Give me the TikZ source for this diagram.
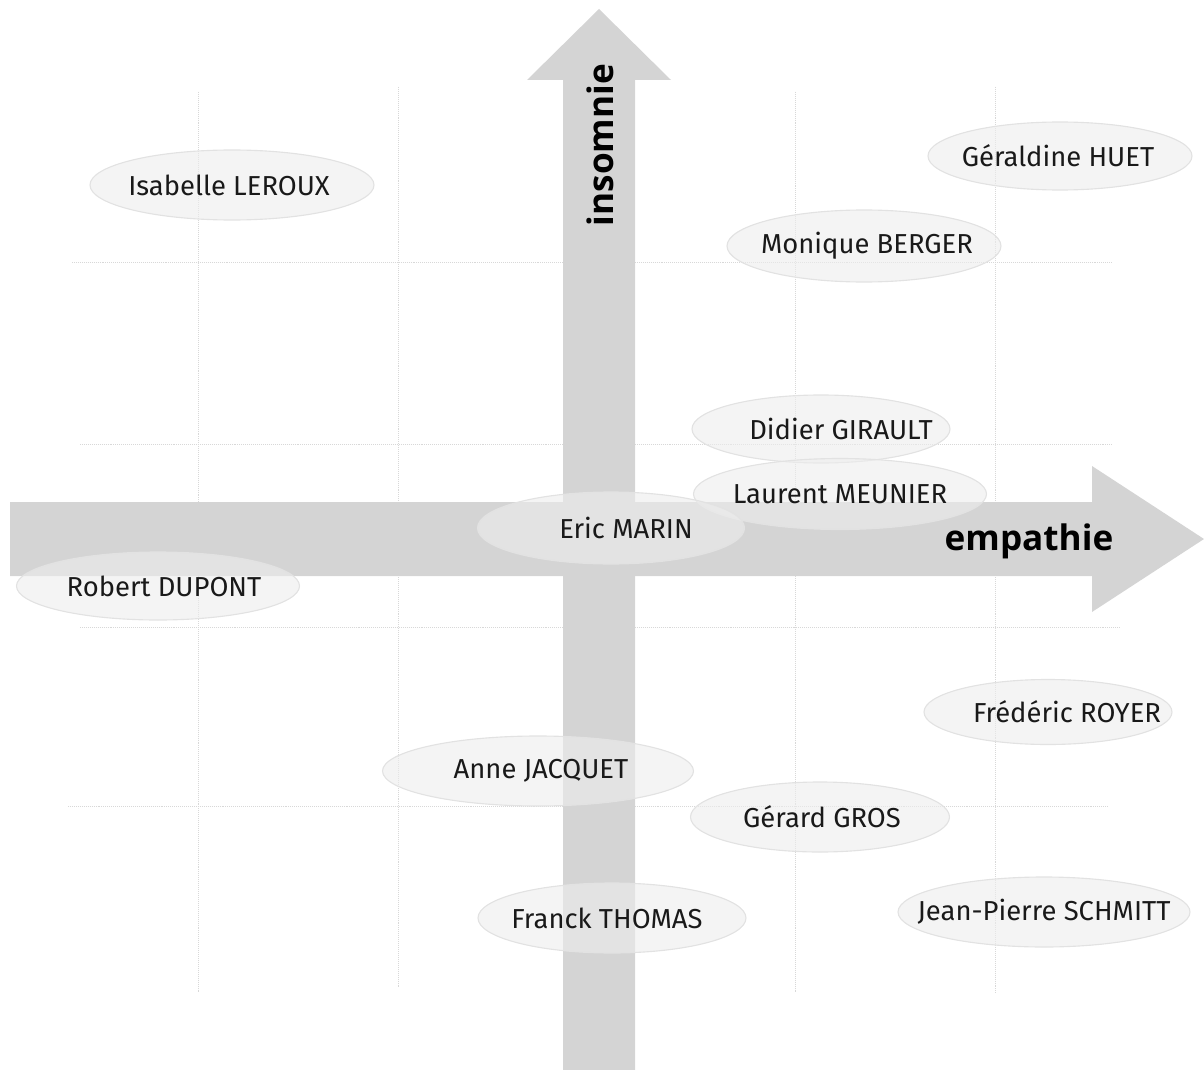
\documentclass[tikz,border=0pt]{standalone}
\usepackage{fontspec}
\setmainfont{Fira Sans}
\newfontfamily\axisfont{Open Sans}
\usetikzlibrary{shapes.geometric}

\definecolor{axisgray}{HTML}{D4D4D4}
\definecolor{ringgray}{HTML}{E2E2E2}
\definecolor{gridgray}{HTML}{D8D8D8}

\tikzset{
    gridline/.style = {gridgray, densely dotted, line width=0.4pt},
    axisarrow/.style = {fill=axisgray, draw=none},
    axislabel/.style = {font=\axisfont\bfseries\fontsize{25}{29}\selectfont, text=black},
    persona/.style = {ellipse, draw=ringgray, line width=0.8pt, fill=gray!14, fill opacity=0.6, inner sep=0pt},
    personname/.style = {font=\fontsize{19.5}{23}\selectfont, text=black!90}
}

\begin{document}
\begin{tikzpicture}[x=0.25mm, y=-0.25mm]

    \useasboundingbox (0,0) rectangle (1204,1070);

    % grille
    \foreach \x/\ya/\yb in {198/92/993, 398/87/988, 795/92/993, 995/87/993}
        \draw[gridline] (\x,\ya) -- (\x,\yb);
    \foreach \y/\xa/\xb in {262/72/1112, 444/80/1113, 627/80/1120, 806/68/1108}
        \draw[gridline] (\xa,\y) -- (\xb,\y);

    % axes
    \fill[axisarrow] (10,502) -- (1092,502) -- (1092,466) -- (1204,539)
        -- (1092,612) -- (1092,576) -- (10,576) -- cycle;
    \fill[axisarrow] (563,1070) -- (563,80) -- (527,80) -- (599,9)
        -- (671,80) -- (635,80) -- (635,1070) -- cycle;

    \node[axislabel] (empathie) at (1029,541) {empathie};
    \node[axislabel, rotate=90] (insomnie) at (600,145) {insomnie};

    % personnes : x/y/largeur/hauteur/decalage texte/nom
    \foreach \x/\y/\w/\h/\dx/\nom [count=\i] in {
        232/185/284/70/-3/Isabelle LEROUX,
        1060/156/264/68/-2/Géraldine HUET,
        864/246/274/72/3/Monique BERGER,
        821/429/258/68/20/Didier GIRAULT,
        840/494/293/71/0/Laurent MEUNIER,
        611/528/267/72/15/Eric MARIN,
        158/586/283/68/6/Robert DUPONT,
        1048/712/248/65/19/Frédéric ROYER,
        538/771/311/70/3/Anne JACQUET,
        820/817/259/70/2/Gérard GROS,
        612/918/268/70/-5/Franck THOMAS,
        1044/912/292/70/0/Jean-Pierre SCHMITT}
    {
        \node[persona, minimum width={\w*0.25mm}, minimum height={\h*0.25mm}] (p\i) at (\x,\y) {};
        \node[personname] (n\i) at ([xshift={\dx*0.25mm}]p\i.center) {\nom};
    }

\end{tikzpicture}
\end{document}
